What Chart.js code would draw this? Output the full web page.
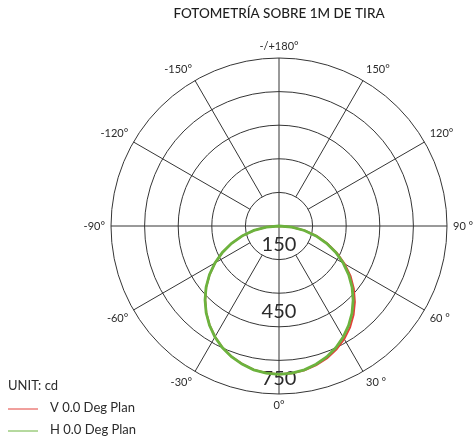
<!DOCTYPE html>
<html>
<head>
<meta charset="utf-8">
<script src="https://cdn.jsdelivr.net/npm/chart.js@4.4.1/dist/chart.umd.min.js"></script>
<style>
  html, body { margin: 0; padding: 0; background: #fff; }
  #wrap { width: 474px; height: 438px; }
</style>
</head>
<body>
<div id="wrap"><canvas id="polarChart"></canvas></div>
<script>
// angle of each sample, clockwise from the top of the diagram
const angles = [
  180, 175, 170, 165, 160, 155, 150, 145, 140, 135, 130, 125, 120, 115, 110, 105, 100, 95,
  90, 85, 80, 75, 70, 65, 60, 55, 50, 45, 40, 35, 30, 25, 20, 15, 10, 5,
  0, -5, -10, -15, -20, -25, -30, -35, -40, -45, -50, -55, -60, -65, -70, -75, -80, -85,
  -90, -95, -100, -105, -110, -115, -120, -125, -130, -135, -140, -145, -150, -155, -160, -165, -170, -175
];

// candela values, V plane (red) and H plane (green)
const vPlane = [
  0, 0, 0, 0, 0, 0, 0, 0, 0, 0, 0, 0, 0, 0, 0, 0, 0, 0,
  0, 60, 118, 175, 231, 286, 339, 390, 436, 479, 518, 553, 583, 608, 628, 643, 654, 660,
  662, 659, 651, 637, 620, 598, 571, 540, 505, 466, 424, 378, 329, 278, 224, 169, 113, 56,
  0, 0, 0, 0, 0, 0, 0, 0, 0, 0, 0, 0, 0, 0, 0, 0, 0, 0
];
const hPlane = [
  0, 0, 0, 0, 0, 0, 0, 0, 0, 0, 0, 0, 0, 0, 0, 0, 0, 0,
  0, 58, 115, 171, 226, 280, 331, 380, 426, 468, 507, 542, 573, 600, 622, 639, 652, 659,
  662, 659, 652, 638, 621, 599, 572, 541, 506, 467, 425, 379, 330, 279, 225, 170, 114, 57,
  0, 0, 0, 0, 0, 0, 0, 0, 0, 0, 0, 0, 0, 0, 0, 0, 0, 0
];

// spokes and their labels
const spokeAngles = [180, 150, 120, 90, 60, 30, 0, -30, -60, -90, -120, -150];
const spokeLabels = ["-/+180°", "150°", "120°", "90 °", "60 °", "30 °", "0°", "-30°", "-60°", "-90°", "-120°", "-150°"];

// rings (cd) and the ones that get a number
const ringStep = 150;
const ringMax = 750;
const ringLabels = [150, 450, 750];

const gridColor = "#353535";
const textColor = "#2b2b2b";
const fontFamily = "Lato, 'Open Sans', sans-serif";

const polarDecor = {
  id: "polarDecor",
  beforeDatasetsDraw(chart) {
    const r = chart.scales.r;
    const ctx = chart.ctx;
    ctx.save();

    // diagonal spokes run from the first ring to the outer ring
    ctx.strokeStyle = gridColor;
    ctx.lineWidth = 1;
    spokeAngles.forEach((a) => {
      if (a % 90 === 0) return;
      const i = angles.indexOf(a);
      const p0 = r.getPointPositionForValue(i, ringStep);
      const p1 = r.getPointPositionForValue(i, ringMax);
      ctx.beginPath();
      ctx.moveTo(p0.x, p0.y);
      ctx.lineTo(p1.x, p1.y);
      ctx.stroke();
    });

    // ring values, just inside their ring, below the centre
    ctx.fillStyle = textColor;
    ctx.font = "20px " + fontFamily;
    ctx.textAlign = "center";
    ctx.textBaseline = "middle";
    ringLabels.forEach((v) => {
      const d = r.getDistanceFromCenterForValue(v) - 15;
      ctx.fillText(String(v), r.xCenter, r.yCenter + d);
    });

    // angle labels round the outside
    ctx.font = "11px " + fontFamily;
    spokeAngles.forEach((a, k) => {
      const i = angles.indexOf(a);
      const p = r.getPointPosition(i, r.drawingArea + 6);
      const dx = (p.x - r.xCenter) / (r.drawingArea + 6);
      const dy = (p.y - r.yCenter) / (r.drawingArea + 6);
      ctx.textAlign = dx > 0.3 ? "left" : dx < -0.3 ? "right" : "center";
      ctx.textBaseline = dy < -0.3 ? "bottom" : dy > 0.3 ? "top" : "middle";
      ctx.fillText(spokeLabels[k], p.x, p.y);
    });
    ctx.restore();
  },
  afterDraw(chart) {
    const ctx = chart.ctx;
    ctx.save();
    ctx.fillStyle = textColor;
    ctx.font = "13px " + fontFamily;
    ctx.textAlign = "left";
    ctx.textBaseline = "middle";
    ctx.fillText("UNIT: cd", 8, 386);
    chart.data.datasets.forEach((ds, k) => {
      const y = 409 + k * 22;
      ctx.strokeStyle = ds.borderColor;
      ctx.lineWidth = 1;
      ctx.beginPath();
      ctx.moveTo(8, y);
      ctx.lineTo(38, y);
      ctx.stroke();
      ctx.fillText(ds.label, 50, y - 1);
    });
    ctx.restore();
  },
};

const ctx = document.getElementById("polarChart").getContext("2d");
const polarChart = new Chart(ctx, {
  type: "radar",
  data: {
    labels: angles,
    datasets: [
      {
        label: "V 0.0 Deg Plan",
        data: vPlane,
        borderColor: "#e2403a",
        borderWidth: 2,
        fill: false,
        pointRadius: 0,
        order: 1,
      },
      {
        label: "H 0.0 Deg Plan",
        data: hPlane,
        borderColor: "#6cb33e",
        borderWidth: 2.8,
        fill: false,
        pointRadius: 0,
        order: 0,
      },
    ],
  },
  options: {
    responsive: true,
    maintainAspectRatio: false,
    animation: false,
    layout: { padding: { left: 111, right: 27, top: 6, bottom: 44 } },
    plugins: {
      legend: { display: false },
      tooltip: { enabled: false },
      title: {
        display: true,
        text: "FOTOMETRÍA SOBRE 1M DE TIRA",
        color: "#1e1e1e",
        font: { family: fontFamily, size: 13.5, weight: "500" },
        padding: { top: 0, bottom: 35.8 },
      },
    },
    scales: {
      r: {
        min: 0,
        max: ringMax,
        ticks: { display: false, stepSize: ringStep },
        grid: { circular: true, color: gridColor, lineWidth: 1 },
        angleLines: {
          color: gridColor,
          lineWidth: (c) => (c.index % 18 === 0 ? 1 : 0), // only the cross through the centre
        },
        pointLabels: { display: false },
      },
    },
  },
  plugins: [polarDecor],
});
</script>
</body>
</html>
